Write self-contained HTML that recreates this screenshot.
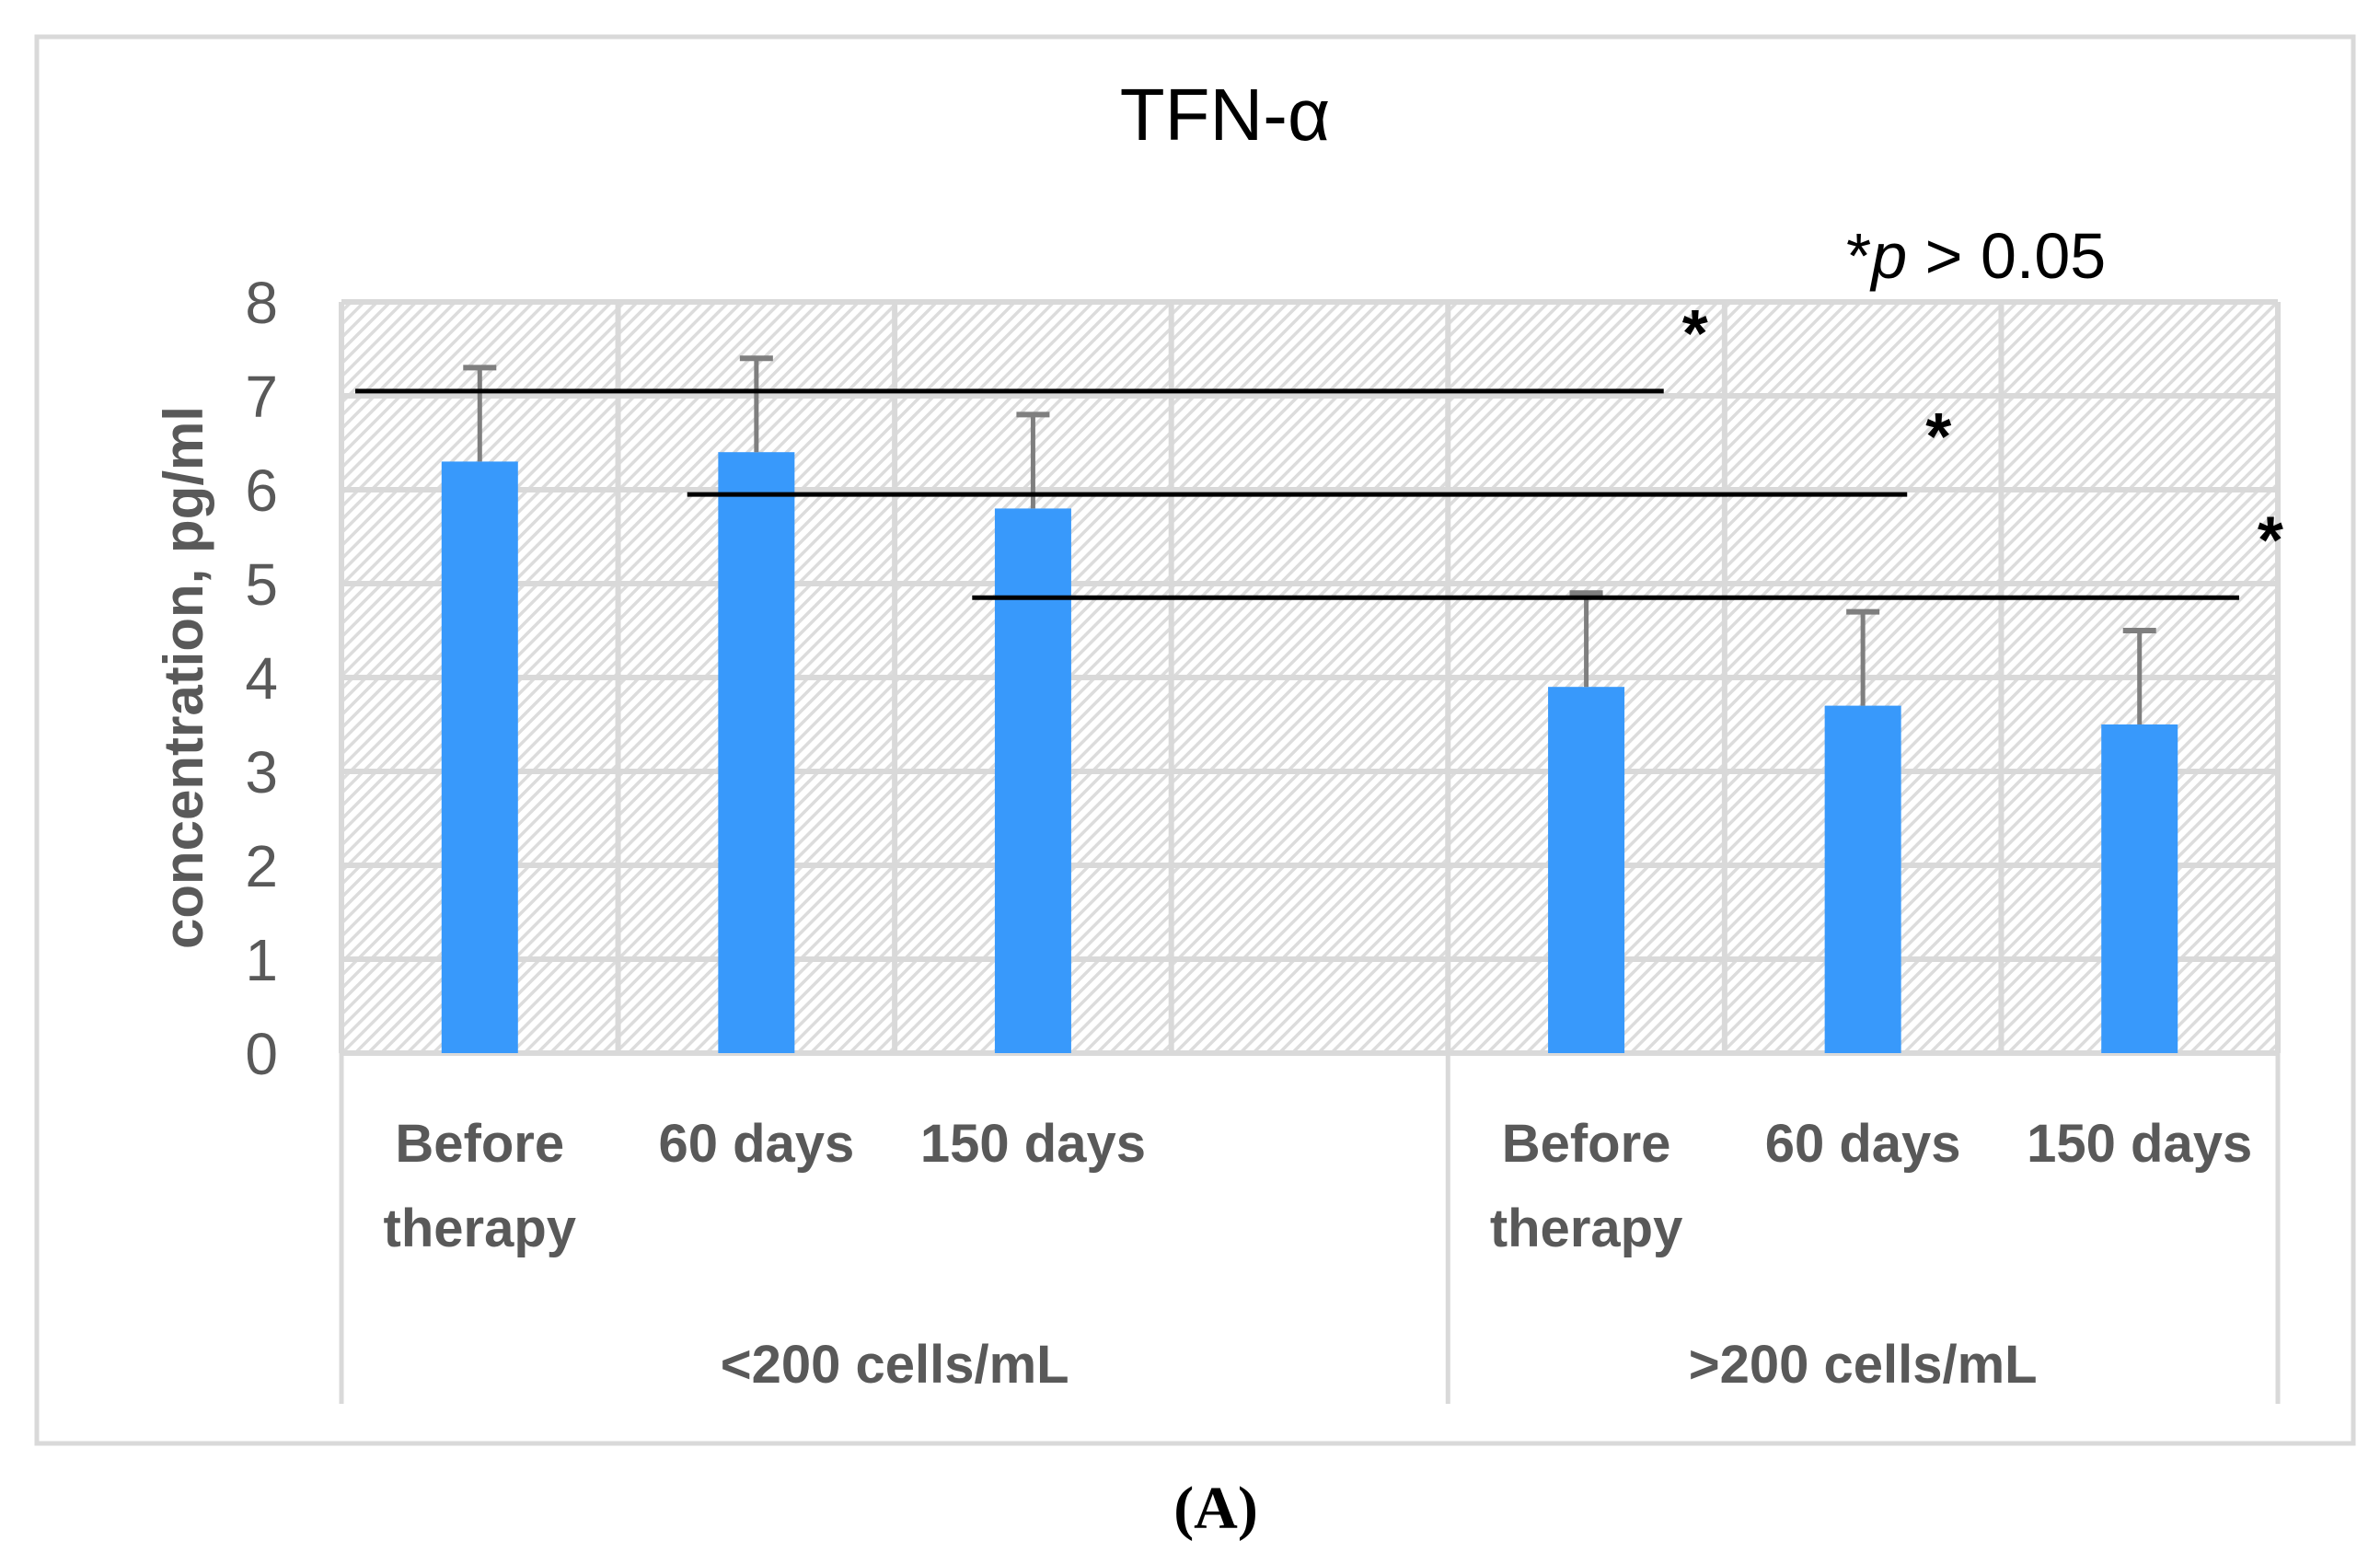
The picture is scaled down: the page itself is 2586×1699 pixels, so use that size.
<!DOCTYPE html>
<html><head><meta charset="utf-8"><style>
body{margin:0;background:#fff;}
svg{display:block;}
text{font-family:"Liberation Sans","DejaVu Sans",sans-serif;}
</style></head><body>
<svg id="chart" width="2586" height="1699" viewBox="0 0 2586 1699">
<defs>
<pattern id="hatch" patternUnits="userSpaceOnUse" width="10" height="10" patternTransform="rotate(45)">
<rect width="10" height="10" fill="#ffffff"/>
<rect x="0" y="0" width="3.5" height="10" fill="#dcdcdc"/>
</pattern>
</defs>
<rect x="40" y="40" width="2517" height="1528" fill="#fff" stroke="#d9d9d9" stroke-width="5"/>
<text x="1331" y="152" font-size="80" text-anchor="middle" fill="#000">TFN-α</text>
<text x="2006" y="302" font-size="70" fill="#000">*<tspan font-style="italic">p</tspan> &gt; 0.05</text>
<rect x="371" y="328" width="2104" height="816" fill="url(#hatch)"/>
<g id="grid"></g>
<g id="bars"></g>
<g id="sig"></g>
<g id="labels"></g>
<text transform="translate(220,736) rotate(-90)" font-size="60" font-weight="bold" fill="#595959" text-anchor="middle">concentration, pg/ml</text>
<text x="1321" y="1660" font-size="66" font-weight="bold" text-anchor="middle" fill="#000" style="font-family:'Liberation Serif',serif">(A)</text>
</svg>
<script>
const categories = ["Before therapy","60 days","150 days","","Before therapy","60 days","150 days"];
const values = [6.3, 6.4, 5.8, null, 3.9, 3.7, 3.5];
const errors = [1.0, 1.0, 1.0, null, 1.0, 1.0, 1.0];
const yTicks = [0,1,2,3,4,5,6,7,8];
const groups = ["<200 cells/mL", ">200 cells/mL"];
const groupSpans = [[0,3],[4,6]];
const sigLevels = [7.05, 5.95, 4.85];
const sigFrom = [-0.45, 0.75, 1.78];
const sigTo = [4.28, 5.16, 6.36];

const NS="http://www.w3.org/2000/svg";
const L=371,R=2475,T=328,B=1144,YMAX=8,N=categories.length;
const slot=(R-L)/N;
const y=v=>B-(v/YMAX)*(B-T);
const x=i=>L+slot*(i+0.5);
function mk(tag,attrs,parent){const e=document.createElementNS(NS,tag);for(const k in attrs)e.setAttribute(k,attrs[k]);parent.appendChild(e);return e;}
const grid=document.getElementById('grid'),bars=document.getElementById('bars'),sig=document.getElementById('sig'),lab=document.getElementById('labels');
yTicks.forEach(t=>{
  const l=mk('line',{x1:L,x2:R,y1:y(t),y2:y(t),stroke:'#d9d9d9','stroke-width':6},grid);
  
  
  const tx=mk('text',{x:302,y:y(t)+23,'font-size':64,'text-anchor':'end',fill:'#595959'},lab);
  tx.textContent=t;
  
  
});
for(let i=0;i<=N;i++){
  const xx=L+slot*i;
  const l=mk('line',{x1:xx,x2:xx,y1:T,y2:B,stroke:'#d9d9d9','stroke-width':6},grid);
  
  
}
[0,4,7].forEach(i=>{
  const xx=L+slot*i;
  const l=mk('line',{x1:xx,x2:xx,y1:B,y2:1525,stroke:'#d9d9d9','stroke-width':5},grid);
  
  
});
values.forEach((v,i)=>{
  if(v===null)return;
  const bw=83;
  const r=mk('rect',{x:x(i)-bw/2,y:y(v),width:bw,height:B-y(v),fill:'#3899fb'},bars);
  
  
  const top=y(v+errors[i]);
  const e=mk('line',{x1:x(i),x2:x(i),y1:y(v),y2:top,stroke:'#7f7f7f','stroke-width':5},bars);
  
  
  const c=mk('line',{x1:x(i)-18,x2:x(i)+18,y1:top,y2:top,stroke:'#7f7f7f','stroke-width':6},bars);
  
  
});
sigLevels.forEach((lv,k)=>{
  const x1=x(sigFrom[k]),x2=x(sigTo[k]);
  const l=mk('line',{x1:x1,x2:x2,y1:y(lv),y2:y(lv),stroke:'#000','stroke-width':5},sig);
  
  
  const s=mk('text',{x:x2+20,y:y(lv)-38,'font-size':72,'font-weight':'bold',fill:'#000'},sig);
  s.textContent='*';
  
  
});
categories.forEach((c,i)=>{
  if(!c)return;
  const words=c==="Before therapy"?["Before","therapy"]:[c];
  words.forEach((w,j)=>{
    const t=mk('text',{x:x(i),y:1262+j*92,'font-size':58,'font-weight':'bold','text-anchor':'middle',fill:'#595959'},lab);
    t.textContent=w;
    
    
  });
});
groups.forEach((g,k)=>{
  const cx=(L+slot*groupSpans[k][0]+L+slot*(groupSpans[k][1]+1))/2;
  const t=mk('text',{x:cx,y:1502,'font-size':58,'font-weight':'bold','text-anchor':'middle',fill:'#595959'},lab);
  t.textContent=g;
  
  
});
</script>
</body></html>
